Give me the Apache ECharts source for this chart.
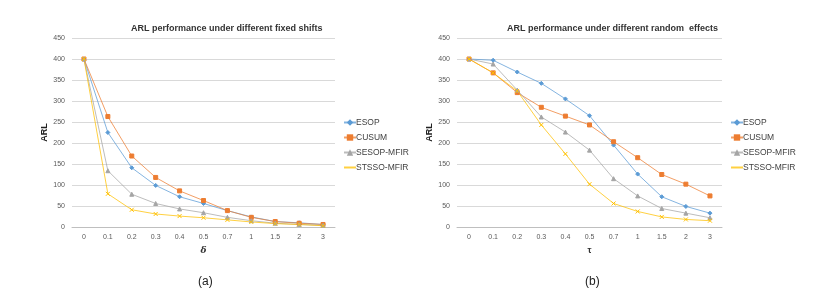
<!DOCTYPE html>
<html><head><meta charset="utf-8">
<script src="https://cdn.jsdelivr.net/npm/echarts@6/dist/echarts.min.js"></script>
<style>html,body{margin:0;padding:0;background:#fff}#c{width:820px;height:299px}</style>
</head><body><div id="c"></div>
<script>
const categories = ['0','0.1','0.2','0.3','0.4','0.5','0.7','1','1.5','2','3'];
const seriesNames = ['ESOP','CUSUM','SESOP-MFIR','STSSO-MFIR'];
// (a) fixed shifts
const fixedESOP  = [400,225,141,99,72,56,39,24,13,10,6];
const fixedCUSUM = [400,263,169,118,86,63,39,23,13,9,6];
const fixedSESOP = [400,134,78,56,43,34,23,15,9,6,4];
const fixedSTSSO = [400,79,41,31,26,22,17,12,8,6,3];
// (b) random effects
const randESOP  = [400,397,369,342,305,265,195,126,72,49,33];
const randCUSUM = [400,367,320,285,264,243,203,165,125,102,74];
const randSESOP = [400,388,326,262,226,183,115,74,44,33,22];
const randSTSSO = [400,367,324,243,174,102,56,37,24,18,15];
const yTicks = [0,50,100,150,200,250,300,350,400,450];

const colors = ['#5B9BD5','#ED7D31','#A5A5A5','#FFC000'];
const symbols = ['diamond','rect','triangle','path://M0,0L10,10M10,0L0,10'];
const font = 'Liberation Sans, Arial, sans-serif';

function mkSeries(dataArr, idx) {
  return dataArr.map((d, i) => ({
    name: seriesNames[i], type: 'line', data: d, xAxisIndex: idx, yAxisIndex: idx,
    color: colors[i], symbol: symbols[i], symbolSize: 4,
    lineStyle: { width: 1, color: colors[i], opacity: 0.75 },
    itemStyle: { color: colors[i], borderColor: colors[i] },
    emphasis: { disabled: true }, animation: false
  }));
}

const xAxisBase = (idx, name, italic) => ({
  type: 'category', data: categories, gridIndex: idx, boundaryGap: true,
  axisLine: { lineStyle: { color: '#bfbfbf' } }, axisTick: { show: false },
  axisLabel: { color: '#595959', fontSize: 7, fontFamily: font, margin: 7 },
  name: name, nameLocation: 'middle', nameGap: 19,
  nameTextStyle: italic
    ? { color: '#333', fontSize: 9, fontWeight: 'bold', fontFamily: 'DejaVu Serif, serif', fontStyle: 'italic' }
    : { color: '#333', fontSize: 9, fontWeight: 'bold', fontFamily: font }
});
const yAxisBase = (idx) => ({
  type: 'value', gridIndex: idx, min: yTicks[0], max: yTicks[yTicks.length - 1], interval: yTicks[1] - yTicks[0],
  axisLine: { show: false }, axisTick: { show: false },
  axisLabel: { color: '#595959', fontSize: 7, fontFamily: font, margin: 7 },
  splitLine: { lineStyle: { color: '#d9d9d9', width: 1 } },
  name: 'ARL', nameLocation: 'middle', nameGap: 22, nameRotate: 90,
  nameTextStyle: { color: '#222', fontSize: 9, fontWeight: 'bold', fontFamily: font }
});
const legendBase = (left) => ({
  orient: 'vertical', left: left, top: 118, padding: 0, itemGap: 6, itemWidth: 12, itemHeight: 8,
  data: seriesNames.map(n => ({ name: n })),
  textStyle: { color: '#404040', fontSize: 8.5, fontFamily: font, padding: [0,0,0,-5] },
  selectedMode: false
});

const chart = echarts.init(document.getElementById('c'), null, { renderer: 'canvas' });
chart.setOption({
  animation: false,
  title: [
    { text: 'ARL performance under different fixed shifts', left: 126, top: 19,
      textStyle: { fontSize: 9, fontWeight: 'bold', color: '#333', fontFamily: font } },
    { text: 'ARL performance under different random  effects', left: 502, top: 19,
      textStyle: { fontSize: 9, fontWeight: 'bold', color: '#333', fontFamily: font } },
    { text: '(a)', left: 193, top: 271,
      textStyle: { fontSize: 12, fontWeight: 'normal', color: '#222', fontFamily: font } },
    { text: '(b)', left: 580, top: 271,
      textStyle: { fontSize: 12, fontWeight: 'normal', color: '#222', fontFamily: font } }
  ],
  grid: [
    { left: 72, width: 263, top: 38, height: 189 },
    { left: 457, width: 265, top: 38, height: 189 }
  ],
  xAxis: [xAxisBase(0, 'δ', true), xAxisBase(1, 'τ', false)],
  yAxis: [yAxisBase(0), yAxisBase(1)],
  legend: [legendBase(343), legendBase(730)],
  series: mkSeries([fixedESOP, fixedCUSUM, fixedSESOP, fixedSTSSO], 0)
    .concat(mkSeries([randESOP, randCUSUM, randSESOP, randSTSSO], 1))
});
</script></body></html>
